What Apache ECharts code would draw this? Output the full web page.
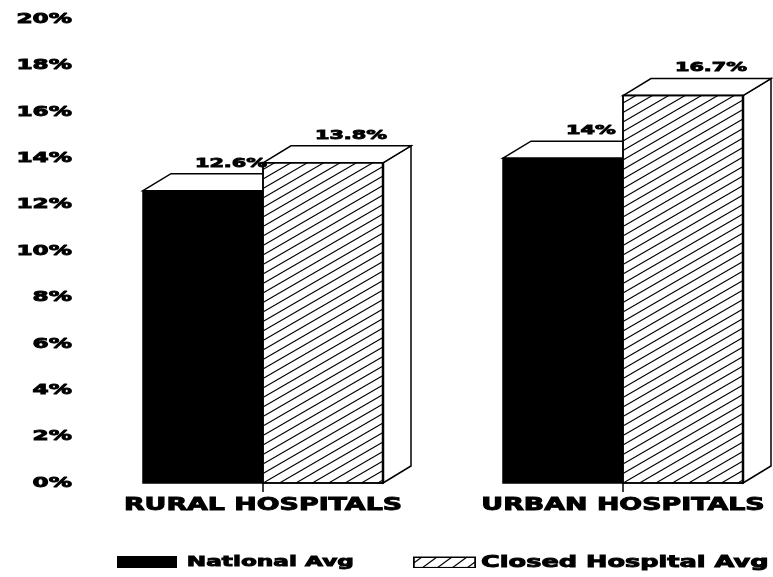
<!DOCTYPE html>
<html><head><meta charset="utf-8">
<script src="https://cdn.jsdelivr.net/npm/echarts@6/dist/echarts.min.js"></script>
<style>html,body{margin:0;padding:0;background:#fff}#c{width:773px;height:577px}</style>
</head><body><div id="c"></div>
<script>
const categories = ['RURAL HOSPITALS', 'URBAN HOSPITALS'];
const nationalAvg = [12.6, 14];
const closedHospitalAvg = [13.8, 16.7];
const nationalLabels = ['12.6%', '14%'];
const closedLabels = ['13.8%', '16.7%'];
const seriesNames = ['National Avg', 'Closed Hospital Avg'];
const yMin = 0, yMax = 20, yStep = 2;

const FONT = '"DejaVu Sans"';
const STRETCH = 1.6;
const BOLDER = 0.9;
const DX = 28, DY = -17;

function box(api, slot, hatched, labels) {
  const idx = api.value(0), val = api.value(1);
  const base = api.coord([idx, 0]);
  const top = api.coord([idx, val]);
  const w = api.size([1, 0])[0] / 3;
  const x0 = slot === 0 ? base[0] - w : base[0];
  const x1 = x0 + w, yb = base[1], yt = top[1];
  const st = function (fill) { return {fill: fill, stroke: '#000', lineWidth: 1.5, lineJoin: 'miter'}; };
  const ch = [];
  ch.push({type: 'polygon', shape: {points: [[x1, yb], [x1 + DX, yb + DY], [x1 + DX, yt + DY], [x1, yt]]}, style: st('#fff')});
  ch.push({type: 'polygon', shape: {points: [[x0, yt], [x0 + DX, yt + DY], [x1 + DX, yt + DY], [x1, yt]]}, style: st('#fff')});
  ch.push({type: 'rect', shape: {x: x0, y: yt, width: w, height: yb - yt}, style: st(hatched ? '#fff' : '#000')});
  if (hatched) {
    const k = 0.58, step = 9.5;
    for (let c = yb + k * w - 3; c > yt; c -= step) {
      const t0 = Math.max(0, (c - yb) / k);
      const t1 = Math.min(w, (c - yt) / k);
      if (t1 > t0) {
        ch.push({type: 'line', shape: {x1: x0 + t0, y1: c - k * t0, x2: x0 + t1, y2: c - k * t1},
          style: {stroke: '#000', lineWidth: 1.1}});
      }
    }
    ch.push({type: 'rect', shape: {x: x0, y: yt, width: w, height: yb - yt}, style: {fill: null, stroke: '#000', lineWidth: 1.5}});
    ch.push({type: 'line', shape: {x1: x1, y1: yt, x2: x1, y2: yb}, style: {stroke: '#000', lineWidth: 2.5}});
  }
  ch.push({type: 'text', x: (x0 + x1) / 2 + DX, y: yt + DY - 4, scaleX: STRETCH, z2: 100,
    style: {text: labels[idx], fill: '#000', stroke: '#000', lineWidth: BOLDER,
      font: 'bold 13px ' + FONT, align: 'center', verticalAlign: 'bottom'}});
  return {type: 'group', children: ch};
}

const hatchSvg = (function () {
  let s = "<svg xmlns='http://www.w3.org/2000/svg' width='63' height='12'>" +
    "<rect x='0.75' y='0.75' width='61.5' height='10.5' fill='white' stroke='black' stroke-width='1.5'/>";
  for (let x = -6; x < 63; x += 15) {
    s += "<line x1='" + x + "' y1='11.5' x2='" + (x + 15) + "' y2='0.5' stroke='black' stroke-width='1.2'/>";
  }
  s += "<rect x='0.75' y='0.75' width='61.5' height='10.5' fill='none' stroke='black' stroke-width='1.5'/></svg>";
  return 'image://data:image/svg+xml;charset=utf-8,' + encodeURIComponent(s);
})();

const chart = echarts.init(document.getElementById('c'), null, {renderer: 'canvas'});
const textBase = {color: '#000', fontFamily: FONT, fontWeight: 'bold', textBorderColor: '#000', textBorderWidth: BOLDER};
chart.setOption({
  animation: false,
  backgroundColor: '#fff',
  grid: {left: 83, top: 19, width: 720, height: 464, outerBoundsMode: 'none', containLabel: false},
  legend: [
    {data: [{name: seriesNames[0], icon: 'rect'}], left: 117, top: 554, padding: 0, itemWidth: 60, itemHeight: 12,
      selectedMode: false, textStyle: Object.assign({fontSize: 14.5, padding: [0, 0, 0, 3]}, textBase)},
    {data: [{name: seriesNames[1], icon: hatchSvg}], left: 413, top: 554, padding: 0, itemWidth: 63, itemHeight: 12,
      selectedMode: false, textStyle: Object.assign({fontSize: 16}, textBase)}
  ],
  xAxis: {
    type: 'category', data: categories, boundaryGap: true,
    axisLine: {show: false},
    axisTick: {show: true, alignWithLabel: true, length: 9, lineStyle: {color: '#000', width: 1.5}},
    axisLabel: Object.assign({fontSize: 16.8, margin: 14}, textBase),
    splitLine: {show: false}
  },
  yAxis: {
    type: 'value', min: yMin, max: yMax, interval: yStep,
    axisLine: {show: false}, axisTick: {show: false}, splitLine: {show: false},
    axisLabel: Object.assign({formatter: '{value}%', fontSize: 14.5, margin: 11}, textBase)
  },
  series: [
    {name: seriesNames[0], type: 'custom', itemStyle: {color: '#000'},
      data: nationalAvg.map(function (v, i) { return [i, v]; }), encode: {x: 0, y: 1},
      renderItem: function (p, api) { return box(api, 0, false, nationalLabels); }},
    {name: seriesNames[1], type: 'custom', itemStyle: {color: '#fff', borderColor: '#000'},
      data: closedHospitalAvg.map(function (v, i) { return [i, v]; }), encode: {x: 0, y: 1},
      renderItem: function (p, api) { return box(api, 1, true, closedLabels); }}
  ]
});

function stretchTexts() {
  const zr = chart.getZr();
  const visit = function (el) {
    if (el.type === 'text') {
      el.attr({originX: el.style.x || 0, originY: el.style.y || 0, scaleX: STRETCH});
    }
    if (el.isGroup) el.eachChild(visit);
  };
  zr.storage.getRoots().forEach(visit);
  zr.refresh();
}
stretchTexts();
</script>
</body></html>
